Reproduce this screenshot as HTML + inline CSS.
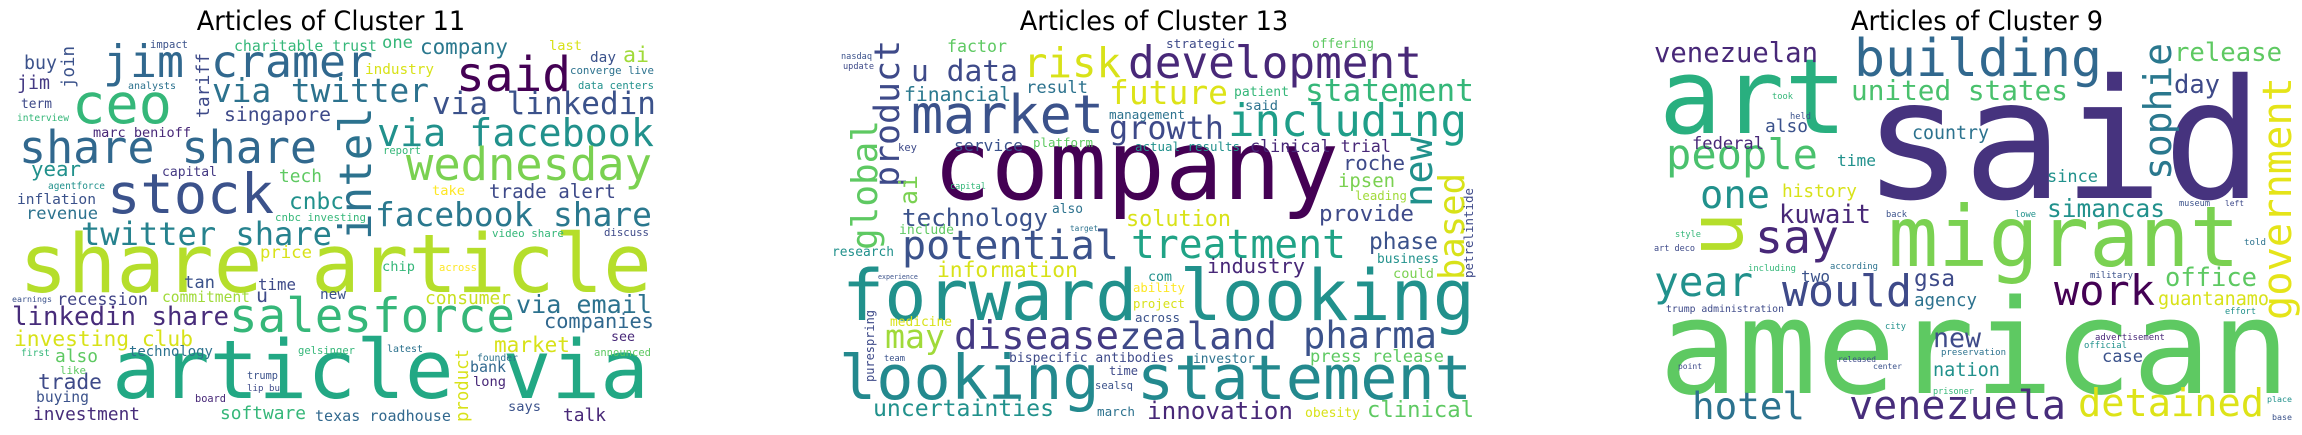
<!DOCTYPE html>
<html><head><meta charset="utf-8">
<style>
html,body{margin:0;padding:0;background:#fff;}
#root{position:relative;width:2302px;height:435px;overflow:hidden;background:#fff;}
.t{position:absolute;top:7px;font-size:27px;line-height:30px;color:#000;text-align:center;width:600px;font-family:"DejaVu Sans","Liberation Sans",sans-serif;transform:scaleX(0.95);transform-origin:50% 0;}
.w{position:absolute;white-space:nowrap;line-height:1;transform-origin:0 0;font-family:"DejaVu Sans Mono","Liberation Mono",monospace;}
</style></head>
<body>
<div id="root">
  <div class="t" style="left:31px">Articles of Cluster 11</div>
  <div class="t" style="left:854px">Articles of Cluster 13</div>
  <div class="t" style="left:1677px">Articles of Cluster 9</div>
</div>
<script>
// [word, x (start; or baseline x if vertical), baseline y (or bottom y if vertical), width/length px, color, vertical]
const words11 = [
["jim cramer",103,78,270,"#31688e"],["said",456,92,115,"#440154"],["ceo",72,125,100,"#35b779"],
["via twitter",212,103,217,"#2c728e"],["via linkedin",432,115,224,"#3b528b"],["share share",19,163,298,"#31688e"],
["via facebook",377,147,277,"#21918c"],["wednesday",406,180,246,"#7ad151"],["stock",107,215,167,"#3b528b"],
["intel",372,240,133,"#2c728e",1],["facebook share",375,227,277,"#2a788e"],["twitter share",81,245,251,"#26828e"],
["share article",19,293,633,"#b5de2b"],["salesforce",229,333,286,"#35b779"],["linkedin share",12,327,217,"#472c7a"],
["via email",516,313,136,"#2c728e"],["article via",112,400,537,"#22a884"],["investing club",14,347,179,"#d8e219"],
["market",494,352,76,"#d8e219"],["companies",544,328,110,"#31688e"],["consumer",425,305,86,"#c8e020"],
["recession",57,305,91,"#414487"],["commitment",162,303,88,"#a0da39"],["trade alert",489,198,127,"#3e4a89"],
["singapore",224,122,107,"#3e4a89"],["company",420,55,88,"#2a788e"],["charitable trust",234,52,143,"#35b779"],
["ai",623,63,26,"#a0da39"],["tech",279,183,43,"#5ec962"],["cnbc",289,210,55,"#21918c"],
["inflation",17,205,79,"#3b528b"],["revenue",26,220,72,"#2c728e"],["year",31,177,50,"#21918c"],
["buy",24,70,33,"#3b528b"],["jim",17,90,33,"#443983"],["join",76,88,42,"#3b528b",1],["tariff",210,118,65,"#3e4a89",1],
["term",21,110,31,"#3e4a89"],["marc benioff",93,138,98,"#482878"],["capital",162,177,55,"#443983"],
["industry",365,75,69,"#d8e219"],["one",382,50,31,"#35b779"],["last",549,52,33,"#d8e219"],["day",590,63,26,"#3b528b"],
["price",260,260,52,"#d8e219"],["tan",184,290,31,"#3b528b"],["time",258,290,38,"#3e4a89"],["chip",382,273,33,"#35b779"],
["new",320,300,26,"#3b528b"],["u",256,303,12,"#3e4a89"],["technology",129,358,84,"#2c728e"],["also",55,363,43,"#5ec962"],
["trade",38,390,64,"#3e4a89"],["buying",36,403,53,"#3b528b"],["investment",33,422,107,"#472c7a"],
["software",220,420,86,"#35b779"],["texas roadhouse",315,422,136,"#31688e"],["talk",563,422,43,"#482878"],
["says",508,413,33,"#3b528b"],["long",473,388,33,"#482878"],["bank",470,373,36,"#31688e"],["latest",387,353,36,"#2c728e"],
["see",611,342,24,"#482878"],["product",470,422,73,"#d8e219",1],["gelsinger",298,355,57,"#35b779"],
["video share",492,238,72,"#35b779"],["discuss",604,237,45,"#3e4a89"],["data centers",578,90,76,"#21918c"],
["converge live",570,75,84,"#2c728e"],["across",439,272,38,"#fde725"],["announced",594,357,57,"#5ec962"],
["cnbc investing",275,222,91,"#35b779"],["take",432,197,33,"#fde725"],["founder",477,362,41,"#2c728e"],
["analysts",128,90,48,"#2c728e"],["interview",17,122,52,"#35b779"],["agentforce",48,190,57,"#21918c"],
["earnings",12,302,40,"#3b528b"],["first",21,357,29,"#35b779"],["like",60,375,26,"#5ec962"],["board",195,403,31,"#482878"],
["lip bu",247,393,33,"#3e4a89"],["trump",247,380,31,"#3b528b"],["report",383,155,38,"#35b779"],["impact",150,49,38,"#3b528b"]
];
const words13 = [
["company",933,200,406,"#440154"],["forward looking",842,320,633,"#21918c"],["looking statement",839,400,633,"#23898e"],
["development",1128,80,294,"#482878"],["risk",1023,77,98,"#d8e219"],["market",911,133,193,"#3b528b"],
["including",1228,137,239,"#1f9e89"],["statement",1305,102,169,"#35b779"],["future",1109,105,119,"#dde318"],
["growth",1109,140,115,"#3e4a89"],["u data",911,82,107,"#3e4a89"],["financial",904,102,107,"#2a788e"],
["result",1026,95,62,"#2c728e"],["factor",947,53,60,"#5ec962"],["strategic",1166,50,69,"#3e4a89"],
["offering",1312,50,62,"#5ec962"],["potential",902,260,217,"#3b528b"],["treatment",1131,260,215,"#20a386"],
["technology",902,227,146,"#3b528b"],["solution",1126,227,105,"#d8e219"],["provide",1319,222,95,"#3e4a89"],
["phase",1369,250,69,"#3b528b"],["roche",1343,170,62,"#3e4a89"],["ipsen",1338,188,57,"#7ad151"],
["clinical trial",1250,152,141,"#482878"],["service",954,152,69,"#3b528b"],["platform",1033,148,60,"#5ec962"],
["actual results",1135,152,105,"#21918c"],["management",1109,120,76,"#2c728e"],["global",878,250,130,"#5ec962",1],
["product",901,187,147,"#3e4a89",1],["ai",918,205,30,"#7ad151",1],["new",1434,207,70,"#21918c",1],
["based",1465,280,107,"#d8e219",1],["petrelintide",1474,278,90,"#3e4a89",1],["information",937,278,141,"#d8e219"],
["industry",1207,273,98,"#482878"],["business",1377,265,62,"#21918c"],["could",1393,280,41,"#7ad151"],
["may",885,348,60,"#a0da39"],["disease",954,350,165,"#443983"],["zealand",1119,350,158,"#3e4a89"],
["pharma",1303,348,134,"#3b528b"],["medicine",890,328,62,"#d8e219"],["bispecific antibodies",1009,363,165,"#3e4a89"],
["press release",1310,363,134,"#5ec962"],["investor",1193,365,62,"#2c728e"],["uncertainties",873,418,181,"#21918c"],
["innovation",1147,420,146,"#482878"],["clinical",1367,418,107,"#5ec962"],["time",1109,375,29,"#3e4a89"],
["sealsq",1095,390,38,"#3b528b"],["obesity",1305,418,55,"#d8e219"],["march",1097,417,38,"#2c728e"],
["across",1135,323,45,"#3b528b"],["ability",1133,292,52,"#fde725"],["project",1133,308,52,"#d8e219"],
["research",832,258,62,"#21918c"],["include",899,235,55,"#5ec962"],["purespring",875,382,72,"#3e4a89",1],
["also",1052,215,31,"#2c728e"],["key",898,152,19,"#3e4a89"],["capital",950,190,36,"#35b779"],["leading",1355,200,52,"#a0da39"],
["patient",1234,97,55,"#35b779"],["said",1245,112,33,"#2c728e"],["update",843,70,31,"#3e4a89"],["nasdaq",841,60,31,"#3b528b"],
["target",1070,232,28,"#2c728e"],["com",1148,282,24,"#21918c"],["experience",878,280,40,"#3b528b"],["team",884,362,21,"#3b528b"]
];
const words9 = [
["said",1863,200,400,"#46337e"],["art",1659,133,188,"#29af7f"],["building",1854,78,248,"#31688e"],
["venezuelan",1654,63,164,"#482878"],["release",2174,63,108,"#5ec962"],["united states",1851,100,217,"#4ac16d"],
["day",2174,95,46,"#3e4a89"],["sophie",2172,180,137,"#2a788e",1],["government",2292,320,243,"#e5e419",1],
["people",1666,170,152,"#4ac16d"],["one",1700,210,70,"#21918c"],["federal",1692,150,72,"#482878"],
["also",1765,133,43,"#3b528b"],["country",1912,140,77,"#2c728e"],["time",1837,167,39,"#21918c"],
["history",1782,198,75,"#d8e219"],["kuwait",1779,225,92,"#482878"],["say",1755,253,84,"#482878"],
["u",1743,257,45,"#b5de2b",1],["migrant",1888,267,352,"#7ad151"],["simancas",2047,218,118,"#21918c"],
["since",2047,182,51,"#21918c"],["year",1654,297,99,"#21918c"],["would",1782,308,130,"#3e4a89"],
["two",1801,283,29,"#3b528b"],["gsa",1914,287,41,"#3e4a89"],["agency",1914,308,63,"#2c728e"],
["work",2054,305,101,"#440154"],["office",2165,288,92,"#5ec962"],["guantanamo",2158,307,111,"#d8e219"],
["american",1659,393,631,"#5ec962"],["hotel",1692,420,113,"#2c728e"],["venezuela",1849,420,217,"#472d7b"],
["detained",2078,418,186,"#dde318"],["new",1933,348,48,"#3e4a89"],["nation",1933,378,67,"#21918c"],
["case",2102,363,41,"#3b528b"],["preservation",1941,357,65,"#2c728e"],["advertisement",2095,342,70,"#482878"],
["trump administration",1666,313,118,"#3e4a89"],["military",2090,280,43,"#3b528b"],["museum",2179,207,31,"#3b528b"],
["art deco",1654,252,41,"#3e4a89"],["style",1675,238,26,"#35b779"],["city",1885,330,21,"#21918c"],
["effort",2225,315,31,"#21918c"],["told",2244,247,22,"#2c728e"],["place",2267,402,25,"#21918c"],
["base",2272,420,20,"#3b528b"],["point",1678,370,24,"#3e4a89"],["prisoner",1933,395,41,"#35b779"],
["left",2225,207,19,"#3e4a89"],["lowe",2015,218,21,"#21918c"],["back",1886,218,21,"#3b528b"],
["including",1748,272,48,"#35b779"],["according",1830,270,48,"#2c728e"],["official",2084,350,43,"#21918c"],
["released",1838,363,38,"#3e4a89"],["center",1873,370,29,"#3b528b"],["held",1790,120,21,"#3b528b"],["took",1772,100,21,"#35b779"]
];
const root = document.getElementById('root');
function place(list, prefix){
  list.forEach(function(w){
    const el = document.createElement('div');
    el.className = 'w';
    el.textContent = w[0];
    
    
    const s = w[3] / (w[0].length * 0.602);
    el.style.fontSize = s.toFixed(2) + 'px';
    el.style.color = w[4];
    if (w[5]) {
      el.style.left = (w[1] - 0.846 * s) + 'px';
      el.style.top = w[2] + 'px';
      el.style.transform = 'rotate(-90deg)';
    } else {
      el.style.left = w[1] + 'px';
      el.style.top = (w[2] - 0.846 * s) + 'px';
    }
    root.appendChild(el);
  });
}
place(words11, 'cluster-11');
place(words13, 'cluster-13');
place(words9, 'cluster-9');
</script>
</body></html>
